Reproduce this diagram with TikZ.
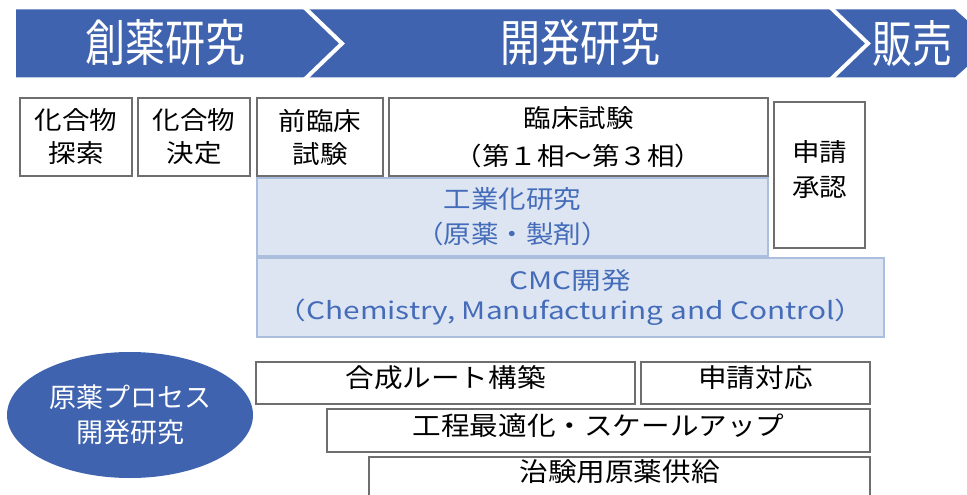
\documentclass[tikz,border=0pt]{standalone}
\usepackage{fontspec}
\setmainfont{Noto Sans CJK JP}
\newfontfamily\jp[FakeStretch=1.1]{Noto Sans CJK JP}
\newfontfamily\jpw[FakeStretch=1.24]{Noto Sans CJK JP}
\newfontfamily\jpn[FakeStretch=0.8]{Noto Sans CJK JP}
\usetikzlibrary{shapes.geometric}
\definecolor{banner}{RGB}{63,99,175}
\definecolor{lbfill}{RGB}{221,229,243}
\definecolor{lbdraw}{RGB}{172,190,222}
\definecolor{lbtext}{RGB}{68,108,185}
\definecolor{boxdraw}{RGB}{110,110,110}
\begin{document}
\begin{tikzpicture}[x=1pt,y=-1pt,
  wbox/.style={draw=boxdraw, line width=1.2pt, fill=white, inner sep=0pt, outer sep=0pt,
    align=center, text=black, font=\jp\fontsize{25}{33}\selectfont},
  onebox/.style={wbox, text height=22pt, text depth=13pt, font=\jp\fontsize{26}{33}\selectfont},
  lbox/.style={draw=lbdraw, line width=1.1pt, fill=lbfill, inner sep=0pt, outer sep=0pt,
    align=center, text=lbtext, font=\jp\fontsize{25}{35}\selectfont},
  bantext/.style={text=white, inner sep=0pt, font=\jpn\fontsize{50}{50}\selectfont},
  plaintext/.style={inner sep=0pt, align=center, text=black, font=\jp\fontsize{25}{35}\selectfont},
  ovalnode/.style={ellipse, fill=banner, draw=none, inner sep=0pt, align=center,
    text=white, font=\fontsize{27}{35}\selectfont}
]
\useasboundingbox (0,0) rectangle (967,495);
\clip (0,0) rectangle (967,495);
% banner
\fill[banner] (16,9.5) -- (955,9.5) -- (993,43.5) -- (955,77.5) -- (16,77.5) -- cycle;
\draw[white, line width=4pt] (304,7) -- (342,43.5) -- (304,80);
\draw[white, line width=4pt] (830,7) -- (868,43.5) -- (830,80);
\node[bantext] (t1) at (165,43) {創薬研究};
\node[bantext] (t2) at (580,43) {開発研究};
\node[bantext] (t3) at (912,44) {販売};
% light blue boxes
\node[lbox, minimum width=511pt, minimum height=78pt] (c1) at (512.5,217) {工業化研究\\（原薬・製剤）};
\node[lbox, minimum width=627pt, minimum height=79pt, font=\jpw\fontsize{24}{30}\selectfont] (c2) at (570.5,297.5) {CMC開発\\（Chemistry, Manufacturing and Control）};
% top row boxes
\node[wbox, minimum width=112pt, minimum height=78pt] (b1) at (76,137) {化合物\\探索};
\node[wbox, minimum width=112pt, minimum height=78pt] (b2) at (194,137) {化合物\\決定};
\node[wbox, minimum width=126pt, minimum height=78pt] (b3) at (320,137) {前臨床\\試験};
\node[wbox, minimum width=379pt, minimum height=78pt, font=\jp\fontsize{25}{38}\selectfont] (b4) at (578.5,137) {臨床試験\\（第１相～第３相）};
\node[wbox, minimum width=91pt, minimum height=146pt] (b5) at (819.5,175) {};
\node[plaintext] (b5t) at (819.5,169.5) {申請\\承認};
% process section
\node[ovalnode, minimum width=246pt, minimum height=126pt] (e1) at (130,415) {原薬プロセス\\開発研究};
\node[onebox, minimum width=379pt, minimum height=42pt] (d1) at (445.5,383) {合成ルート構築};
\node[onebox, minimum width=229pt, minimum height=42pt] (d2) at (755.5,383) {申請対応};
\node[onebox, minimum width=543pt, minimum height=43pt] (d3) at (598.5,430.5) {工程最適化・スケールアップ};
\node[onebox, minimum width=501pt, minimum height=39pt] (d4) at (619.5,476.5) {治験用原薬供給};
\end{tikzpicture}
\end{document}
